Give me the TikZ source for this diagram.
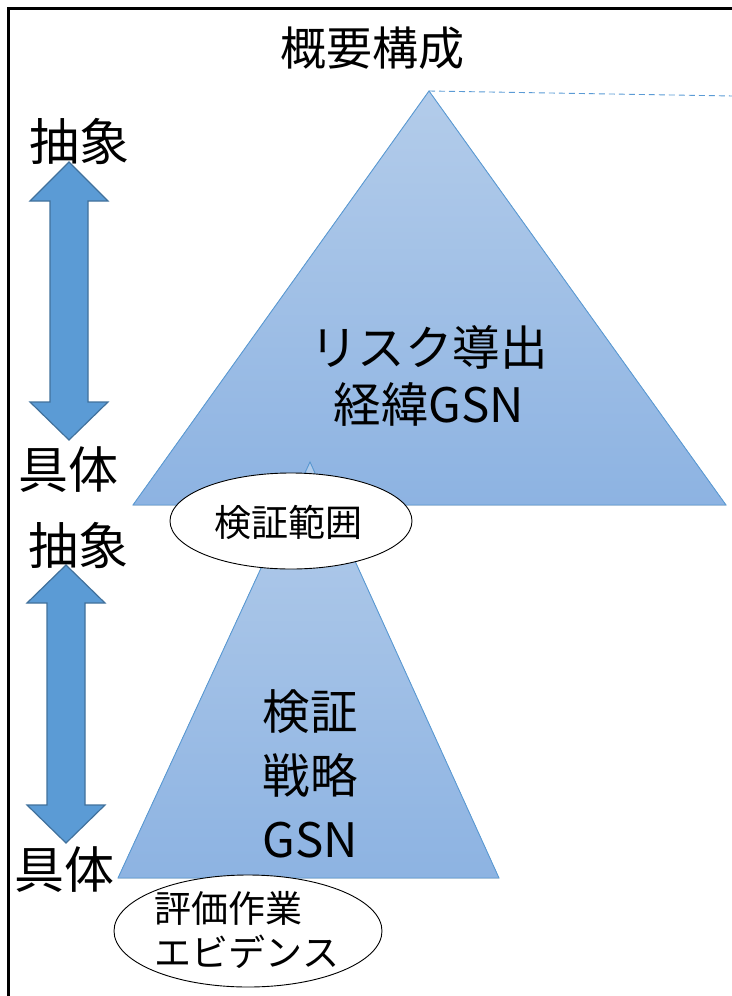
\documentclass[tikz,border=0pt]{standalone}
\usepackage{fontspec}
\setmainfont{Noto Sans CJK JP}
\usetikzlibrary{shapes.geometric}
\definecolor{triTop}{HTML}{B3CCEA}
\definecolor{triBot}{HTML}{8DB3E2}
\definecolor{triLine}{HTML}{5B9BD5}
\definecolor{arrFill}{HTML}{5B9BD5}
\definecolor{arrLine}{HTML}{41719C}
\begin{document}
\begin{tikzpicture}[x=1pt,y=-1pt,
  tri/.style={draw=triLine, line width=0.9pt, top color=triTop, bottom color=triBot},
  dblarrow/.style={fill=arrFill, draw=arrLine, line width=1.2pt, line join=miter},
  biglabel/.style={font=\fontsize{50pt}{50pt}\selectfont, inner sep=0pt},
  tritext/.style={font=\fontsize{47.5pt}{57pt}\selectfont, inner sep=0pt, align=center},
  ovalbox/.style={ellipse, draw=black, line width=0.9pt, fill=white, inner sep=0pt},
  ovaltext/.style={font=\fontsize{37pt}{44pt}\selectfont}
]
\useasboundingbox (0,0) rectangle (731,996);
% frame
\draw[line width=3pt] (8,998) -- (8,8) -- (733,8);
% title
\node[font=\fontsize{46pt}{46pt}\selectfont, inner sep=0pt] (title) at (372,48) {概要構成};
% big triangle
\coordinate (bigTop) at (429,91);
\coordinate (bigL) at (133,505);
\coordinate (bigR) at (726,505);
\coordinate (dashEnd) at (733,96);
\fill[tri] (bigTop) -- (bigR) -- (bigL) -- cycle;
\draw[triLine, line width=0.9pt, dash pattern=on 6pt off 4pt] (bigTop) -- (dashEnd);
\node[tritext] (bigText) at (429,376) {リスク導出\\経緯GSN};
% small triangle
\coordinate (smTop) at (310,462);
\coordinate (smL) at (118,878);
\coordinate (smR) at (499,878);
\fill[tri] (smTop) -- (smR) -- (smL) -- cycle;
\node[tritext, font=\fontsize{47.5pt}{64pt}\selectfont] (smText) at (310,774) {検証\\戦略\\GSN};
% ellipses
\node[ovalbox, minimum width=242pt, minimum height=96pt] (scope) at (291,521) {};
\node[ovaltext, inner sep=0pt] (scopeText) at (288,522) {検証範囲};
\node[ovalbox, minimum width=268pt, minimum height=112pt] (evid) at (248,931) {};
\node[ovaltext, inner sep=0pt, align=left] (evidText) at (247,930) {評価作業\\エビデンス};
% arrows
\fill[dblarrow] (69,162) -- (108,201) -- (88,201) -- (88,402) -- (108,402) -- (69,440)
  -- (30,402) -- (50,402) -- (50,201) -- (30,201) -- cycle;
\fill[dblarrow] (66,565) -- (105,603) -- (85,603) -- (85,805) -- (105,805) -- (66,843)
  -- (27,805) -- (47,805) -- (47,603) -- (27,603) -- cycle;
% side labels
\node[biglabel] (abs1) at (79,141) {抽象};
\node[biglabel] (con1) at (69,470) {具体};
\node[biglabel] (abs2) at (78,545) {抽象};
\node[biglabel] (con2) at (64,870) {具体};
\end{tikzpicture}
\end{document}
